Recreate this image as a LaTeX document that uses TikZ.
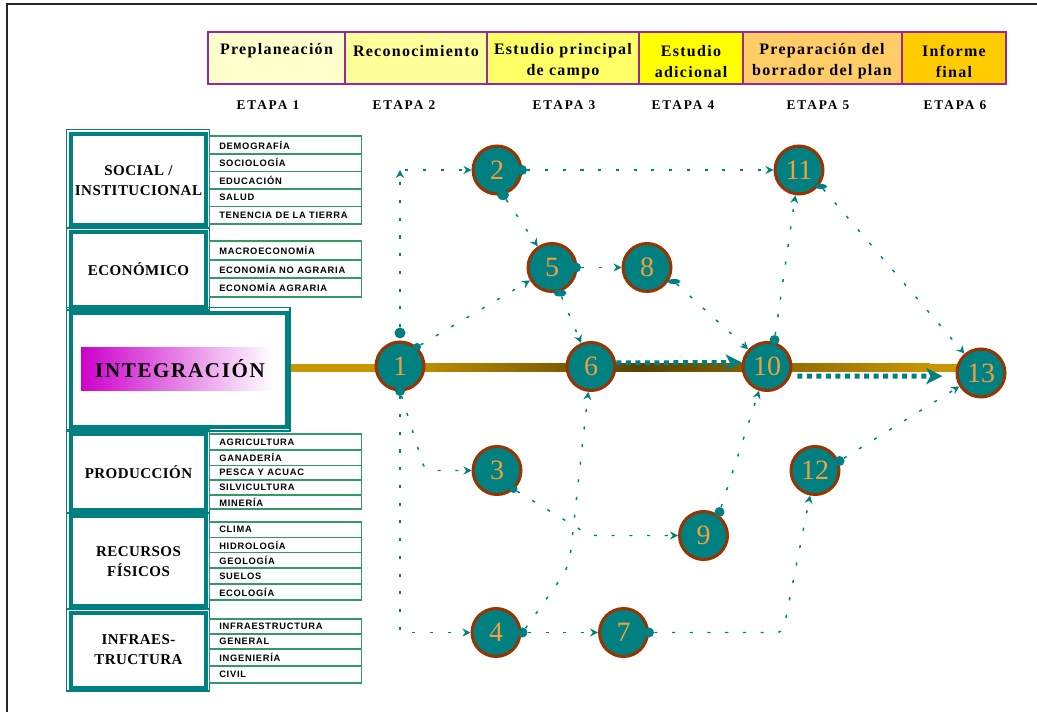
\documentclass[tikz,border=0pt]{standalone}
\usepackage{fontspec}
\setmainfont{Liberation Serif}
\newfontfamily\hdrfont[LetterSpace=8]{Liberation Serif}
\newfontfamily\etapafont[LetterSpace=14]{Liberation Serif}
\newfontfamily\grpfont[LetterSpace=3]{Liberation Serif}
\newfontfamily\intfont[LetterSpace=8]{Liberation Serif}
\newfontfamily\itemfont[LetterSpace=8]{Liberation Sans}
\usetikzlibrary{arrows.meta,shapes.geometric}
\pgfdeclarelayer{bg}
\pgfsetlayers{bg,main}
\definecolor{teal1}{RGB}{0,128,128}
\definecolor{circbrown}{RGB}{153,51,0}
\definecolor{numorange}{RGB}{242,160,60}
\definecolor{itemgreen}{RGB}{51,153,102}
\definecolor{hdrpurple}{RGB}{153,40,153}
\definecolor{hA}{RGB}{255,255,204}
\definecolor{hB}{RGB}{255,255,153}
\definecolor{hC}{RGB}{255,255,102}
\definecolor{hD}{RGB}{255,255,0}
\definecolor{hE}{RGB}{255,204,102}
\definecolor{hF}{RGB}{255,204,0}
\definecolor{barGold}{RGB}{200,150,0}
\definecolor{barDark}{RGB}{90,66,0}
\definecolor{intMag}{RGB}{204,0,204}
\begin{document}
\begin{tikzpicture}[x=0.75pt,y=-0.75pt,
  hdrbox/.style={draw=hdrpurple, line width=1.5pt},
  hdrtxt/.style={font=\hdrfont\bfseries\fontsize{12}{15.75}\selectfont, align=center, inner sep=0pt},
  etapatxt/.style={font=\etapafont\bfseries\fontsize{10}{11}\selectfont, inner sep=0pt},
  thinframe/.style={draw=teal1, line width=0.8pt},
  thickframe/.style={draw=teal1, line width=2.4pt},
  grptxt/.style={font=\grpfont\bfseries\fontsize{11.25}{15}\selectfont, align=center, inner sep=0pt},
  itembox/.style={draw=itemgreen, line width=1.1pt},
  itemtxt/.style={font=\itemfont\bfseries\fontsize{7}{8}\selectfont, anchor=west, inner sep=0pt},
  circ/.style={circle, fill=teal1, draw=circbrown, line width=2.25pt, minimum size=36pt, inner sep=0pt, text=numorange, font=\fontsize{21}{21}\selectfont},
  sdot/.style={circle, fill=teal1, inner sep=0pt, minimum size=#1},
  sdot/.default=7.5pt,
  edot/.style={ellipse, fill=teal1, inner sep=0pt},
  conn/.style={draw=teal1, line width=1.1pt, dash pattern=on 2.3pt off 11pt, -{Stealth[length=6pt,width=6pt,inset=2pt]}},
  bigconn/.style={draw=teal1, line width=3.75pt, dash pattern=on 3.75pt off 3.4pt, -{Stealth[length=12pt,width=12pt,inset=3pt]}}
]
\useasboundingbox (0,0) rectangle (1037,712);
\begin{pgfonlayer}{bg}
  \fill[white] (0,0) rectangle (1037,712);
\end{pgfonlayer}
\draw[black!85, line width=0.9pt] (7,712) -- (7,4) -- (1037,4);

% header
\path[hdrbox, fill=hA] (208,32) rectangle (345,84);
\path[hdrbox, fill=hB] (345,32) rectangle (487,84);
\path[hdrbox, fill=hC] (487,32) rectangle (639,84);
\path[hdrbox, fill=hD] (639,32) rectangle (742.5,84);
\path[hdrbox, fill=hE] (742.5,32) rectangle (902,84);
\path[hdrbox, fill=hF] (902,32) rectangle (1006,84);
\node[hdrtxt] (h1) at (276.5,50.7) {Preplaneación};
\node[hdrtxt] (h2) at (416,50.7) {Reconocimiento};
\node[hdrtxt] (h3) at (563,61.2) {Estudio principal\\de campo};
\node[hdrtxt] (h4) at (691,61.2) {Estudio\\adicional};
\node[hdrtxt] (h5) at (822,61.2) {Preparación del\\borrador del plan};
\node[hdrtxt] (h6) at (954,61.2) {Informe\\final};

\node[etapatxt] (e1) at (268,105) {ETAPA 1};
\node[etapatxt] (e2) at (404,105) {ETAPA 2};
\node[etapatxt] (e3) at (564,105) {ETAPA 3};
\node[etapatxt] (e4) at (683,105) {ETAPA 4};
\node[etapatxt] (e5) at (818,105) {ETAPA 5};
\node[etapatxt] (e6) at (955,105) {ETAPA 6};

% left group frames
\draw[thinframe] (66.5,129.5) rectangle (209.5,228);
\draw[thickframe] (71,134) rectangle (206,225);
\draw[thinframe] (66.5,228) rectangle (209.5,310);
\draw[thickframe] (71,232) rectangle (206,307);
\draw[thinframe] (66.5,307.5) rectangle (290,431);
\draw[thickframe] (71,313) rectangle (287,427);
\draw[thinframe] (66.5,430) rectangle (209.5,513);
\draw[thickframe] (71,434) rectangle (206,510);
\draw[thinframe] (66.5,513) rectangle (209.5,609);
\draw[thickframe] (71,516) rectangle (206,606);
\draw[thinframe] (66.5,609) rectangle (209.5,691);
\draw[thickframe] (71,613) rectangle (206,688);

\node[grptxt] (gsoc) at (138.5,180.3) {SOCIAL /\\INSTITUCIONAL};
\node[grptxt] (geco) at (138.5,269) {ECONÓMICO};
\node[grptxt] (gpro) at (138.5,472.3) {PRODUCCIÓN};
\node[grptxt] (grec) at (138.5,561.2) {RECURSOS\\FÍSICOS};
\node[grptxt] (ginf) at (138.5,649.5) {INFRAES-\\TRUCTURA};

\shade[left color=intMag, right color=white] (81,348) rectangle (273,390);
\node[font=\intfont\bfseries\fontsize{15.75}{18}\selectfont, inner sep=0pt] (gint) at (180,369) {INTEGRACIÓN};

% items
\foreach \t/\a/\b [count=\i] in {
  DEMOGRAFÍA/136/154, SOCIOLOGÍA/154/171.5, EDUCACIÓN/171.5/189, SALUD/189/206.5, TENENCIA DE LA TIERRA/206.5/224,
  MACROECONOMÍA/241/260, ECONOMÍA NO AGRARIA/260/278, ECONOMÍA AGRARIA/278/297,
  AGRICULTURA/434/450, GANADERÍA/450/465.5, PESCA Y ACUAC/465.5/480, SILVICULTURA/480/495, MINERÍA/495/509,
  CLIMA/522/537.5, HIDROLOGÍA/537.5/552.5, GEOLOGÍA/552.5/568, SUELOS/568/584, ECOLOGÍA/584/600,
  INFRAESTRUCTURA/619/634, GENERAL/634/649, INGENIERÍA/649/666, CIVIL/666/683}
{
  \draw[itembox] (209.5,\a) rectangle (361.5,\b);
  \node[itemtxt] (it\i) at (219,{(\a+\b)/2}) {\t};
}

% circles
\node[circ] (n1) at (400,366) {1};
\node[circ] (n2) at (497,170) {2};
\node[circ] (n3) at (497,470.5) {3};
\node[circ] (n4) at (496,632.5) {4};
\node[circ] (n5) at (552,267.5) {5};
\node[circ] (n6) at (591,366.5) {6};
\node[circ] (n7) at (623.5,632.5) {7};
\node[circ] (n8) at (647,267.5) {8};
\node[circ] (n9) at (703.5,535.5) {9};
\node[circ] (n10) at (767,366.5) {10};
\node[circ] (n11) at (799,170) {11};
\node[circ] (n12) at (815,470.5) {12};
\node[circ] (n13) at (981,373) {13};

% start dots
\node[sdot=8.25pt] (d1t) at (400,333) {};
\node[sdot=6pt] (d1r) at (417,347) {};
\node[sdot] (d1b) at (400,391) {};
\node[sdot] (d2r) at (522,170) {};
\node[edot, minimum width=9pt, minimum height=7.5pt] (d2b) at (503,195) {};
\node[sdot] (d5r) at (576,267.5) {};
\node[edot, minimum width=9.75pt, minimum height=5.25pt] (d5b) at (560,293) {};
\node[edot, minimum width=9.75pt, minimum height=3.75pt] (d8) at (674,281.5) {};
\node[edot, minimum width=9pt, minimum height=3.75pt] (d11) at (821,186.5) {};
\node[sdot] (d10t) at (774.5,340) {};
\node[sdot=6pt] (d3) at (513.5,489) {};
\node[sdot] (d9) at (719.5,512) {};
\node[sdot] (d12) at (839.5,461) {};
\node[sdot] (d4) at (522.5,632.5) {};
\node[sdot] (d7) at (649,632.5) {};

% corner coordinates
\coordinate (k12) at (400,170);
\coordinate (k13) at (425,470.5);
\coordinate (k14) at (400,632.5);
\coordinate (k39) at (590,535.5);
\coordinate (k46) at (569,567);
\coordinate (k712) at (783,632.5);

\begin{pgfonlayer}{bg}
  % integration bar
  \fill[barGold] (288,363.5) rectangle (400,371.5);
  \shade[left color=barGold, right color=barDark] (399.5,363.5) rectangle (640,371.5);
  \shade[left color=barDark, right color=barGold] (639.5,363.5) rectangle (930,371.5);
  \fill[barGold] (929.5,363.5) rectangle (960,371.5);
  % connectors
  \draw[conn] (d1t) -- (k12);
  \draw[conn, shorten <=4pt] (k12) -- (n2);
  \draw[conn] (d1r) -- (n5);
  \draw[conn, rounded corners=5pt] (d1b) -- (k13) -- (n3);
  \draw[conn] (d1b) -- (k14) -- (n4);
  \draw[conn] (d2r) -- (n11);
  \draw[conn] (d2b) -- (n5);
  \draw[conn] (d5r) -- (n8);
  \draw[conn] (d5b) -- (n6);
  \draw[conn] (d8) -- (n10);
  \draw[conn] (d10t) -- (n11);
  \draw[conn] (d11) -- (n13);
  \draw[conn, rounded corners=5pt] (d3) -- (k39) -- (n9);
  \draw[conn, rounded corners=10pt] (d4) -- (k46) -- (n6);
  \draw[conn] (d4) -- (n7);
  \draw[conn] (d9) -- (n10);
  \draw[conn, rounded corners=4pt] (d7) -- (k712) -- (n12);
  \draw[conn] (d12) -- (n13);
  % thick dotted arrows
  \draw[bigconn] (n6.8.6) -- (n10.171.4);
  \draw[bigconn, shorten <=5pt, shorten >=10pt] (n10.-22) -- (n13.187);
\end{pgfonlayer}
\end{tikzpicture}
\end{document}
